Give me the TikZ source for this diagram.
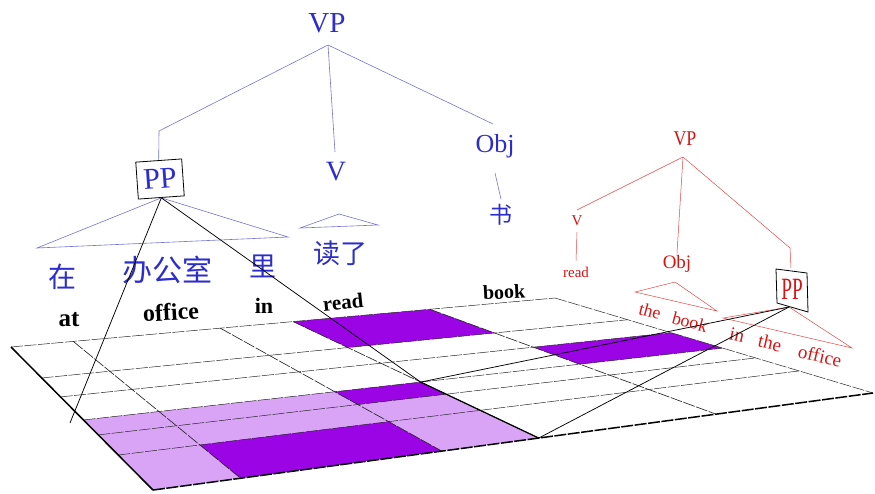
\documentclass[tikz,border=0pt]{standalone}
\usepackage{fontspec}
\setmainfont{Liberation Serif}
\newfontfamily\cjk{Noto Sans CJK SC}
\definecolor{bluetext}{RGB}{45,45,205}
\definecolor{blueline}{RGB}{115,115,215}
\definecolor{redtext}{RGB}{215,20,20}
\definecolor{redline}{RGB}{228,70,70}
\definecolor{darkpurple}{RGB}{155,5,230}
\definecolor{lightpurple}{RGB}{218,164,246}
\newcommand{\myfs}[1]{\fontsize{#1}{#1}\selectfont}
\begin{document}
\begin{tikzpicture}[x=1pt,y=-1pt,
  declare function={
    hd(\u,\v)=0.17621*\u-0.32227*\v+1;
    hx(\u,\v)=(641.8*\u+92.69*\v+11)/hd(\u,\v);
    hy(\u,\v)=(3.51*\u-14.91*\v+347)/hd(\u,\v);
  },
  bt/.style={text=bluetext, inner sep=0pt},
  bl/.style={draw=blueline, line width=0.6pt},
  rt/.style={text=redtext, inner sep=0pt},
  rl/.style={draw=redline, line width=0.5pt},
  ew/.style={inner sep=0pt, text=black},
  rowline/.style={draw=black!85, line width=0.5pt, dash pattern=on 12pt off 1.5pt},
  colline/.style={draw=black!85, line width=0.65pt, dash pattern=on 12pt off 1.5pt},
  edgethick/.style={draw=black, line width=1.5pt},
  conn/.style={draw=black, line width=0.75pt},
]
\useasboundingbox (0,0) rectangle (875,493);

% ---------- grid points ----------
\foreach \u [count=\i from 0] in {0,0.099,0.347,0.478,0.74,1}{
  \foreach \v [count=\j from 0] in {0,0.29,0.442,0.606,0.702,0.82,1}{
    \coordinate (g\i-\j) at ({hx(\u,\v)},{hy(\u,\v)});
  }
}

% ---------- fills ----------
\fill[lightpurple] (g0-3) -- (g3-3) -- (g3-6) -- (g0-6) -- cycle;
\fill[darkpurple] (g3-0) -- (g4-0) -- (g4-1) -- (g3-1) -- cycle;
\fill[darkpurple] (g4-2) -- (g5-2) -- (g5-3) -- (g4-3) -- cycle;
\fill[darkpurple] (g2-3) -- (g3-3) -- (g3-4) -- (g2-4) -- cycle;
\fill[darkpurple] (g1-5) -- (g2-5) -- (g2-6) -- (g1-6) -- cycle;

% ---------- grid lines ----------
\foreach \j in {0,...,5}{\draw[rowline] (g0-\j) -- (g5-\j);}
\foreach \i in {1,...,4}{\draw[colline] (g\i-0) -- (g\i-6);}
\draw[rowline] (g5-0) -- (g5-6);
\draw[edgethick] (g0-0) -- (g0-6);
\draw[edgethick, dash pattern=on 12pt off 1.5pt] (g0-6) -- (g5-6);
\draw[draw=black, line width=1.2pt] (g3-3) -- (g3-6);

% ---------- blue tree ----------
\node[bt, font=\myfs{29}] (VP) at (327,23) {VP};
\coordinate (vpA) at (328,45);
\node[draw=black, line width=0.8pt, text=bluetext, minimum width=46pt,
      minimum height=37pt, inner sep=0pt, rotate=4, font=\myfs{30}] (bPP) at (160,179) {PP};
\node[bt, font=\myfs{28}] (V) at (336,172) {V};
\node[bt, font=\myfs{26}] (Obj) at (495,146) {Obj};
\coordinate (vT) at (335,152);
\coordinate (objT) at (493,124);
\draw[bl] (vpA) -- (159,131) -- (bPP.north);
\draw[bl] (vpA) -- (vT);
\draw[bl] (vpA) -- (objT);
\node[bt, font={\cjk\myfs{23}}] (shu) at (501,215) {书};
\draw[bl] ([yshift=-15pt]Obj.south) -- ([yshift=5pt]shu.north);
\node[bt, font={\cjk\myfs{27}}] (dule) at (340,253) {读了};
\draw[bl] (339,214) -- (300,228) -- (378,225) -- cycle;
\draw[bl] (bPP.south) -- (37,248) -- (288,237) -- cycle;
\node[bt, font={\cjk\myfs{28}}] (zai) at (62,277) {在};
\node[bt, font={\cjk\myfs{30}}] (bgs) at (167,270) {办公室};
\node[bt, font={\cjk\myfs{27}}] (li) at (263,266) {里};

% ---------- English column labels ----------
\node[ew, font={\bfseries\myfs{25}}] (wat) at (69,320) {at};
\node[ew, font={\bfseries\myfs{24}}, rotate=3] (woffice) at (171,312) {office};
\node[ew, font={\bfseries\myfs{22}}] (win) at (264,306) {in};
\node[ew, font={\bfseries\myfs{21}}, rotate=6] (wread) at (343,302) {read};
\node[ew, font={\bfseries\myfs{20}}, rotate=3] (wbook) at (504,292) {book};

% ---------- red tree ----------
\node[rt, font=\myfs{21}, xscale=0.85] (rVP) at (685,139) {VP};
\coordinate (rvpA) at (683,157);
\node[rt, font=\myfs{15}] (rV) at (577,221) {V};
\coordinate (rvT) at (577,210);
\node[rt, font=\myfs{15}] (rread) at (576,272) {read};
\node[rt, font=\myfs{19}] (rObj) at (677,264) {Obj};
\coordinate (robjT) at (677,253);
\draw[rl] (rvpA) -- (rvT);
\draw[rl] (rvpA) -- (robjT);
\draw[rl] (rvpA) -- (790,248) -- (791,268);
\draw[rl] ([yshift=-6pt]rV.south) -- ([yshift=6pt]rread.north);
\draw[rl] (675,282) -- (635,292) -- (717,311) -- cycle;
\node[rt, font=\myfs{18}, rotate=-15] (rthe1) at (650,311) {the};
\node[rt, font=\myfs{18}, rotate=-15] (rbook) at (690,322) {book};
\node[rt, font=\myfs{31}, xscale=0.62] (rPP) at (792,289) {PP};
\draw[line width=0.8pt] (776,269) -- (807,273) -- (808,312) -- (777,303) -- cycle;
\coordinate (rppb) at (789,307);
\draw[rl] (rppb) -- (723,318) -- (852,348) -- cycle;
\node[rt, font=\myfs{19}, rotate=-13] (rin) at (737,335) {in};
\node[rt, font=\myfs{19}, rotate=-13] (rthe2) at (770,343) {the};
\node[rt, font=\myfs{19}, rotate=-13] (roffice) at (820,356) {office};

% ---------- black alignment connectors ----------
\coordinate (atEnd) at (70,423);
\draw[conn] (bPP.south) -- (atEnd);
\draw[conn] (bPP.south) -- (g3-3);
\draw[conn] (g3-3) -- (rppb);
\draw[conn] (rppb) -- (g3-6);
\end{tikzpicture}
\end{document}
